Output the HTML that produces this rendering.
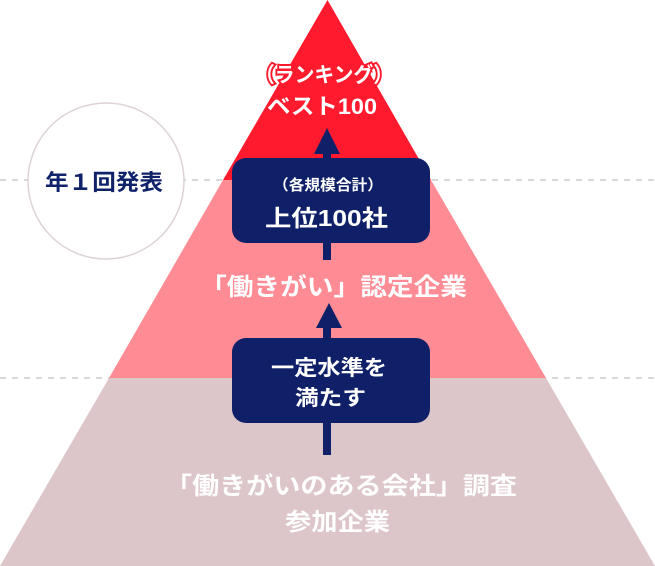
<!DOCTYPE html>
<html><head><meta charset="utf-8"><style>
body{margin:0;width:655px;height:566px;background:#fff;overflow:hidden}
svg{display:block}
text{font-family:"Liberation Sans","Noto Sans CJK JP",sans-serif;font-weight:bold}
</style></head><body>
<svg width="655" height="566" viewBox="0 0 655 566">
<line x1="0" y1="180" x2="655" y2="180" stroke="#ccc" stroke-width="1.5" stroke-dasharray="6,6"/>
<line x1="0" y1="378" x2="655" y2="378" stroke="#ccc" stroke-width="1.5" stroke-dasharray="6,6"/>
<polygon points="0,566 655,566 546,378 109,378" fill="#dcc6ca"/>
<polygon points="109,378 546,378 431,180 223,180" fill="#ff8b94"/>
<polygon points="223,180 431,180 327.5,0" fill="#ff1a2d"/>
<circle cx="106" cy="181" r="78" fill="#fff" stroke="#ddd3d6" stroke-width="1.5"/>
<text x="45" y="190" font-size="22" fill="#10236a" textLength="118" lengthAdjust="spacingAndGlyphs">年１回発表</text>
<text x="255" y="82" font-size="21" fill="#fff" stroke="#ff1a2d" stroke-width="4" paint-order="stroke" textLength="138" lengthAdjust="spacingAndGlyphs">（ランキング）</text>
<text x="267" y="114" font-size="22" fill="#fff" font-weight="normal" textLength="110" lengthAdjust="spacingAndGlyphs">ベスト100</text>
<rect x="323" y="150" width="8" height="110" fill="#0f2068"/>
<polygon points="314,154 340,154 327,128" fill="#0f2068"/>
<rect x="232" y="158" width="198" height="85" rx="14" fill="#0f2068"/>
<text x="273" y="190" font-size="15" fill="#fff" textLength="110" lengthAdjust="spacingAndGlyphs">（各規模合計）</text>
<text x="265" y="226" font-size="23" fill="#fff" font-weight="normal" textLength="123" lengthAdjust="spacingAndGlyphs">上位100社</text>
<text x="200" y="295" font-size="24" fill="#fff" font-weight="normal" textLength="267" lengthAdjust="spacingAndGlyphs">「働きがい」認定企業</text>
<rect x="323" y="325" width="8" height="130" fill="#0f2068"/>
<polygon points="316,328 342,328 329,303" fill="#0f2068"/>
<rect x="232" y="338" width="198" height="85" rx="14" fill="#0f2068"/>
<text x="271" y="375" font-size="21" fill="#fff" textLength="116" lengthAdjust="spacingAndGlyphs">一定水準を</text>
<text x="295" y="405" font-size="21" fill="#fff" textLength="71" lengthAdjust="spacingAndGlyphs">満たす</text>
<text x="165" y="494" font-size="24" fill="#fff" font-weight="normal" textLength="352" lengthAdjust="spacingAndGlyphs">「働きがいのある会社」調査</text>
<text x="285" y="530" font-size="24" fill="#fff" font-weight="normal" textLength="105" lengthAdjust="spacingAndGlyphs">参加企業</text>
</svg>
</body></html>
